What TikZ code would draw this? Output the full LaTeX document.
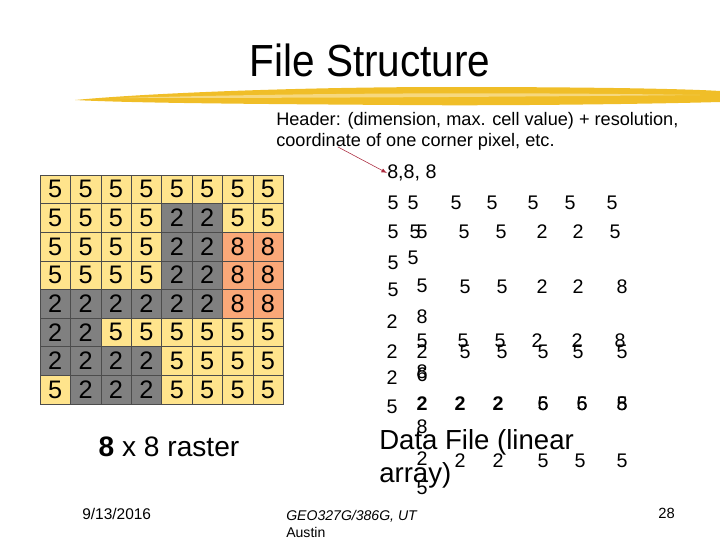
\documentclass[tikz,border=0pt]{standalone}
\usepackage{fontspec}
\setmainfont{Liberation Sans}
\newfontfamily\titlefont[FakeStretch=0.9]{Liberation Sans}
\definecolor{cfive}{RGB}{255,228,140}
\definecolor{ctwo}{RGB}{128,128,128}
\definecolor{ceight}{RGB}{250,168,120}
\definecolor{brush}{RGB}{240,190,40}
\definecolor{arrred}{RGB}{170,40,60}
\tikzset{
  cell/.style={draw=black!70,line width=0.4pt,minimum width=0.76cm,minimum height=0.715cm,inner sep=0pt,font=\fontsize{18}{20}\selectfont},
  datnum/.style={inner sep=0pt,font=\fontsize{14}{16}\selectfont},
  small/.style={inner sep=0pt,anchor=west,font=\fontsize{10.5}{12}\selectfont}
}

\begin{document}
\begin{tikzpicture}[x=0.025cm,y=-0.025cm]
  \useasboundingbox (0,0) rectangle (720,540);
  % title and brush stroke
  \node[inner sep=0pt,font=\titlefont\fontsize{32}{36}\selectfont] (title) at (370,60) {File Structure};
  \fill[brush] (75,100) .. controls (150,93) and (300,87) .. (450,87)
    .. controls (600,87) and (690,89) .. (720,91) -- (720,102)
    .. controls (650,104) and (500,106) .. (400,105)
    .. controls (250,104) and (130,103) .. (75,100) -- cycle;
  \fill[brush!60!white] (120,98) .. controls (300,93) and (500,92) .. (700,95)
    .. controls (500,97) and (300,98) .. (120,98) -- cycle;

  % raster
  \foreach \row [count=\r] in {{5,5,5,5,5,5,5,5},{5,5,5,5,2,2,5,5},{5,5,5,5,2,2,8,8},
      {5,5,5,5,2,2,8,8},{2,2,2,2,2,2,8,8},{2,2,5,5,5,5,5,5},{2,2,2,2,5,5,5,5},{5,2,2,2,5,5,5,5}}{
    \foreach \v [count=\c] in \row {
      \ifnum\v=5 \def\cc{cfive}\fi
      \ifnum\v=2 \def\cc{ctwo}\fi
      \ifnum\v=8 \def\cc{ceight}\fi
      \node[cell,fill=\cc] (g\r\c) at ({40+30.4*(\c-0.5)},{175+28.6*(\r-0.5)}) {\v};
    }
  }
  \node[inner sep=0pt,font=\fontsize{20}{24}\selectfont] (rcap) at (169,447) {\textbf{8} x 8 raster};

  % header
  \node[inner sep=0pt,anchor=west,font=\fontsize{12.9}{15}\selectfont] (hdr1) at (276,121) {Header: (dimension, max. cell value) + resolution,};
  \node[inner sep=0pt,anchor=west,font=\fontsize{12.9}{15}\selectfont] (hdr2) at (276,142) {coordinate of one corner pixel, etc.};
  \node[datnum,anchor=west] (hdrval) at (387,173) {8,8, 8};
  \coordinate (arrtail) at (338,147);
  \draw[arrred,-latex] (arrtail) -- (hdrval.west);

  % data file, as printed
  \foreach \x/\y/\t [count=\i] in {393/203/5,413/203/5,456/203/5,492/203/5,533/203/5,570/203/5,612/203/5,
      393/232/5,415/232/5,422/232/5,464/232/5,501/232/5,542/232/2,578/232/2,615/232/5,
      393/263/5,413/258/5,
      393/290/5,422/286/5,465/287/5,502/287/5,542/287/2,578/287/2,622/287/8,
      392/322/2,422/317/8,
      422/341/5,463/341/5,500/341/5,537/341/2,577/341/2,620/341/8,
      392/352/2,422/352/2,465/352/5,502/352/5,543/352/5,578/352/5,622/352/5,
      392/378/2,422/372/8,422/375/6,
      392/407/5,422/404/\textbf{2},460/404/\textbf{2},498/404/\textbf{2},
      543/404/6,543/404/5,582/404/6,582/404/5,622/404/8,622/404/5,
      422/427/8,
      422/459/2,460/461/2,498/461/2,543/461/5,580/461/5,622/461/5,
      422/488/5}
    \node[datnum] (d\i) at (\x,\y) {\t};
  \node[inner sep=0pt,anchor=west,font=\fontsize{19.6}{23}\selectfont] (dat1) at (379,442) {Data File (linear};
  \node[inner sep=0pt,anchor=west,font=\fontsize{19.6}{23}\selectfont] (dat2) at (379,475) {array)};

  % footer
  \node[small,font=\fontsize{11}{13}\selectfont] (date) at (82,514) {9/13/2016};
  \node[small,font=\fontsize{10}{12}\selectfont\itshape] (crs1) at (286,516) {GEO327G/386G, UT};
  \node[small,font=\fontsize{10}{12}\selectfont] (crs2) at (286,532) {Austin};
  \node[small] (pg) at (658,513) {28};
\end{tikzpicture}
\end{document}
